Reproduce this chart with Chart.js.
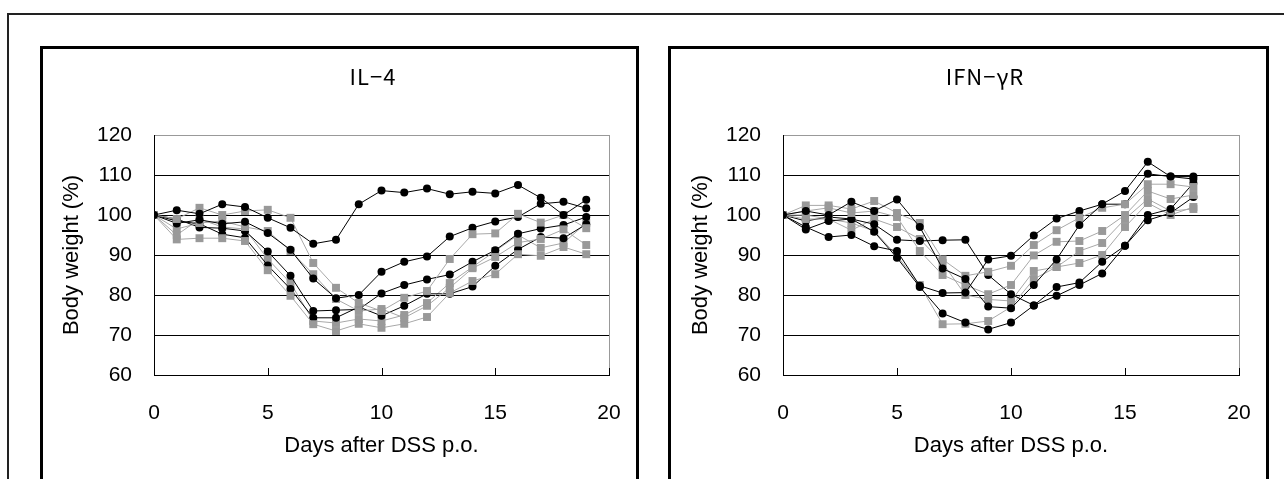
<!DOCTYPE html>
<html>
<head>
<meta charset="utf-8">
<script src="https://cdn.jsdelivr.net/npm/chart.js@4.4.1/dist/chart.umd.min.js"></script>
<style>
  body { margin: 0; background: #fff; width: 1284px; height: 479px; overflow: hidden; position: relative; }
  #frame { position: absolute; left: 7px; top: 13px; width: 1300px; height: 500px; border-top: 2px solid #222; border-left: 2px solid #222; }
  .panel { position: absolute; top: 46px; height: 500px; border: 3px solid #000; background: #fff; }
  #p1 { left: 40px; width: 593px; }
  #p2 { left: 668px; width: 595px; }
  canvas { display: block; }
  .ttl { position: absolute; top: 62px; width: 200px; text-align: center; font: 22px 'Noto Sans CJK JP', 'Liberation Sans', sans-serif; line-height: 26px; color: #000; letter-spacing: 1px; }
  #t1 { left: 273px; }
  #t2 { left: 885px; }
</style>
</head>
<body>
<div id="frame"></div>
<div class="panel" id="p1"><canvas id="c1" width="593" height="430"></canvas></div>
<div class="panel" id="p2"><canvas id="c2" width="595" height="430"></canvas></div>
<div class="ttl" id="t1">IL−4</div>
<div class="ttl" id="t2">IFN−γR</div>
<script>
// days after DSS p.o.
const il4Days = [0, 1, 2, 3, 4, 5, 6, 7, 8, 9, 10, 11, 12, 13, 14, 15, 16, 17, 18, 19];
const ifnDays = [0, 1, 2, 3, 4, 5, 6, 7, 8, 9, 10, 11, 12, 13, 14, 15, 16, 17, 18];

// IL-4 panel, black circles
const il4Black1 = [100, 101.2, 100.3, 102.7, 102, 99.3, 96.8, 92.8, 93.8, 102.7, 106.1, 105.6, 106.6, 105.2, 105.8, 105.4, 107.5, 104.3, 100, 103.8];
const il4Black2 = [100, 97.9, 98.8, 97.8, 98.3, 95.5, 91.3, 84.1, 79.2, 80, 85.8, 88.3, 89.6, 94.6, 96.8, 98.4, 99.5, 102.8, 103.3, 101.7];
const il4Black3 = [100, 99, 96.9, 96.7, 96, 90.9, 84.8, 76, 76.2, 76.4, 80.4, 82.5, 83.9, 85.1, 88.3, 91.2, 95.3, 96.6, 97.5, 99.5];
const il4Black4 = [100, 98.5, 97.8, 95.2, 94.3, 87.4, 81.5, 74.3, 74.3, 77, 74.8, 77.3, 80.3, 80.3, 82.1, 87.3, 91.4, 94.5, 94.2, 97.7];
// IL-4 panel, grey squares
const il4Grey1 = [100, 99, 101.8, 100, 101, 101.3, 99.3, 88, 81.8, 78, 76, 79.3, 81, 89, 95.2, 95.4, 100.3, 98.1, 100, 96.7];
const il4Grey2 = [100, 96.5, 98, 98.5, 97, 96, 91, 85.2, 79, 76, 76.5, 74.3, 77.3, 81.8, 86.7, 89.5, 93.1, 94, 96.4, 92.5];
const il4Grey3 = [100, 93.9, 94.2, 94.2, 93.5, 86.2, 79.8, 72.7, 71, 72.8, 71.8, 72.8, 74.5, 80.5, 83.5, 85.2, 90.2, 89.8, 92, 90.2];
const il4Grey4 = [100, 95, 99, 97, 96.5, 89, 83, 73.5, 73, 74, 73.5, 75, 78, 83, 87, 91, 95, 91.8, 93, 98];

// IFN-gamma R panel, black circles
const ifnBlack1 = [100, 101, 100, 103.3, 101, 103.9, 97, 86.6, 84, 77.1, 76.7, 82.5, 88.9, 97.5, 102.7, 106, 113.3, 109.6, 109.6];
const ifnBlack2 = [100, 97, 94.5, 95, 92.2, 91, 82.3, 80.5, 80.6, 88.9, 89.8, 94.9, 99.1, 101, 102.7, 102.7, 110.3, 109.6, 109];
const ifnBlack3 = [100, 96.4, 98.5, 99, 97.7, 93.8, 93.5, 93.7, 93.8, 85, 80.2, 77.4, 82, 83.1, 88.3, 92.3, 100, 101.5, 108];
const ifnBlack4 = [100, 98.5, 99.5, 99, 95.8, 89.3, 82, 75.4, 73.1, 71.4, 73.1, 77.4, 79.8, 82.5, 85.4, 92.3, 98.7, 100.5, 104.5];
// IFN-gamma R panel, grey squares
const ifnGrey1 = [100, 102.4, 102.4, 101.5, 103.5, 100.5, 98, 88.9, 84.8, 85.8, 87.3, 92.5, 96.2, 99.3, 101.8, 102.7, 107.7, 107.7, 107];
const ifnGrey2 = [100, 101, 101.8, 100.5, 101, 99.5, 91, 85, 82.5, 80.2, 82.5, 89.9, 93.3, 93.5, 96, 100, 106, 104, 105];
const ifnGrey3 = [100, 99, 99, 96.2, 99, 97, 94, 88, 80, 78.9, 78.5, 86, 87, 91, 93, 99, 104, 101, 101.5];
const ifnGrey4 = [100, 100, 99, 98, 96, 89.8, 82.5, 72.7, 72.8, 73.5, 77, 84, 87, 88, 90, 97, 103, 100, 102];

const yTicks = [60, 70, 80, 90, 100, 110, 120];
const xTicks = [0, 5, 10, 15, 20];

function pts(days, vals) {
  return vals.map((v, i) => ({ x: days[i], y: v }));
}

function blackSet(days, vals) {
  return {
    data: pts(days, vals),
    borderColor: '#000', borderWidth: 1,
    pointStyle: 'circle', pointRadius: 4,
    pointBackgroundColor: '#000', pointBorderColor: '#000', pointBorderWidth: 0
  };
}

function greySet(days, vals) {
  return {
    data: pts(days, vals),
    borderColor: '#a8a8a8', borderWidth: 1,
    pointStyle: 'rect', pointRadius: 5.6,
    pointBackgroundColor: '#999', pointBorderColor: '#999', pointBorderWidth: 0
  };
}

// small upward tick marks on the x axis
const innerTicks = {
  id: 'innerTicks',
  afterDraw(chart) {
    const ctx = chart.ctx;
    const x = chart.scales.x;
    const bottom = chart.chartArea.bottom;
    ctx.save();
    ctx.strokeStyle = '#000';
    ctx.lineWidth = 1;
    xTicks.slice(1).forEach(t => {
      const px = Math.round(x.getPixelForValue(t)) + 0.5;
      ctx.beginPath();
      ctx.moveTo(px, bottom);
      ctx.lineTo(px, bottom - 7);
      ctx.stroke();
    });
    ctx.restore();
  }
};

function makeChart(id, datasets, yWidth, yTitlePad) {
  return new Chart(document.getElementById(id), {
    type: 'line',
    data: { datasets },
    plugins: [innerTicks],
    options: {
      responsive: false,
      animation: false,
      layout: { padding: { left: 0, right: 27, top: 86, bottom: 0 } },
      plugins: {
        legend: { display: false },
        tooltip: { enabled: false },
        title: { display: false }
      },
      scales: {
        x: {
          type: 'linear', min: 0, max: 20,
          afterBuildTicks: s => { s.ticks = xTicks.map(v => ({ value: v })); },
          afterFit: s => { s.height = 104; s.paddingLeft = 0; s.paddingRight = 0; },
          grid: {
            drawTicks: false,
            color: c => (c.tick && c.tick.value === 20 ? '#999' : 'rgba(0,0,0,0)')
          },
          border: { color: '#000', width: 1 },
          ticks: { color: '#000', padding: 26, font: { family: 'Liberation Sans', size: 21 } },
          title: {
            display: true, text: 'Days after DSS p.o.', color: '#000',
            font: { family: 'Liberation Sans', size: 22 },
            padding: { top: 0, bottom: 20 }
          }
        },
        y: {
          min: 60, max: 120,
          afterBuildTicks: s => { s.ticks = yTicks.map(v => ({ value: v })); },
          afterFit: s => { s.width = yWidth; s.paddingTop = 0; s.paddingBottom = 0; },
          grid: {
            drawTicks: false,
            color: c => (c.tick && c.tick.value === 120 ? '#999' : '#000')
          },
          border: { color: '#000', width: 1 },
          ticks: { color: '#000', padding: 22, font: { family: 'Liberation Sans', size: 21 } },
          title: {
            display: true, text: 'Body weight (%)', color: '#000',
            font: { family: 'Liberation Sans', size: 22 },
            padding: { top: yTitlePad, bottom: 0 }
          }
        }
      }
    }
  });
}

makeChart('c1', [
  blackSet(il4Days, il4Black1), greySet(il4Days, il4Grey1),
  blackSet(il4Days, il4Black2), greySet(il4Days, il4Grey2),
  blackSet(il4Days, il4Black3), greySet(il4Days, il4Grey3),
  blackSet(il4Days, il4Black4), greySet(il4Days, il4Grey4)
], 111, 16);

makeChart('c2', [
  blackSet(ifnDays, ifnBlack1), greySet(ifnDays, ifnGrey1),
  blackSet(ifnDays, ifnBlack2), greySet(ifnDays, ifnGrey2),
  blackSet(ifnDays, ifnBlack3), greySet(ifnDays, ifnGrey3),
  blackSet(ifnDays, ifnBlack4), greySet(ifnDays, ifnGrey4)
], 112, 17);
</script>
</body>
</html>
